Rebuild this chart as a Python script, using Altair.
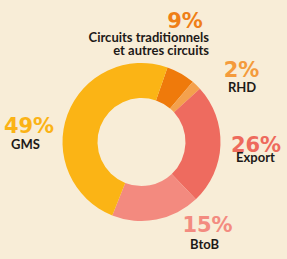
import math
import altair as alt
import pandas as pd

# Categories in clockwise order starting from the top (after GMS)
categories = ["Circuits traditionnels et autres circuits", "RHD", "Export", "BtoB", "GMS"]
# Label percentages as printed
pct_labels = ["9%", "2%", "26%", "15%", "49%"]
arc_share = [5.9, 2.0, 24.7, 18.1, 49.3]
slice_colors = ["#EF7A0B", "#F4A14D", "#EE6B5F", "#F38A7F", "#FBB415"]
pct_colors = ["#EF7F17", "#F49B3C", "#EE6A5C", "#F38B80", "#FBB316"]

# Label layout (pixel positions of annotation text)
pct_pos = [(185, 28), (241.5, 77), (256, 151.5), (207.5, 232), (29, 133)]
name_lines = [["Circuits traditionnels", "et autres circuits"], ["RHD"], ["Export"], ["BtoB"], ["GMS"]]
name_pos = [(209, 42), (242, 91.5), (255.5, 161.5), (204.5, 249), (25.5, 148.5)]
name_align = ["right", "center", "center", "center", "center"]

W, H = 287, 259
CX, CY = 141.5, 142
start = math.radians(19.2)

slices = pd.DataFrame({
    "category": categories,
    "share": arc_share,
    "order": list(range(len(categories))),
})

pie = alt.Chart(slices).mark_arc(innerRadius=44, outerRadius=79, stroke=None).encode(
    theta=alt.Theta("share:Q", stack=True, scale=alt.Scale(range=[start, start + 2 * math.pi])),
    order=alt.Order("order:Q"),
    color=alt.Color("category:N", scale=alt.Scale(domain=categories, range=slice_colors), legend=None),
    x=alt.value(CX),
    y=alt.value(CY),
)

pct_df = pd.DataFrame({
    "label": pct_labels,
    "category": categories,
    "lx": [p[0] for p in pct_pos],
    "ly": [p[1] for p in pct_pos],
})

pct_text = alt.Chart(pct_df).mark_text(
    font="DejaVu Sans", fontWeight="bold", fontSize=21, align="center", baseline="alphabetic"
).encode(
    x=alt.X("lx:Q", scale=None, axis=None),
    y=alt.Y("ly:Q", scale=None, axis=None),
    text="label:N",
    color=alt.Color("category:N", scale=alt.Scale(domain=categories, range=pct_colors), legend=None),
)

name_rows = []
for cat, lines, pos, al in zip(categories, name_lines, name_pos, name_align):
    for i, line in enumerate(lines):
        name_rows.append({"label": line, "lx": pos[0], "ly": pos[1] + 13 * i, "al": al})
name_df = pd.DataFrame(name_rows)

layers = [pie, pct_text]
for al in ["right", "center"]:
    layers.append(
        alt.Chart(name_df[name_df["al"] == al]).mark_text(
            font="Lato", fontWeight="bold", fontSize=13, align=al, baseline="alphabetic", color="#1E1A17"
        ).encode(
            x=alt.X("lx:Q", scale=None, axis=None),
            y=alt.Y("ly:Q", scale=None, axis=None),
            text="label:N",
        )
    )

chart = alt.layer(*layers).resolve_scale(color="independent").properties(
    width=W, height=H, padding=0, autosize=alt.AutoSizeParams(type="none"),
    background="#F8EDD7",
).configure_view(stroke=None)

chart.save("out.html", embed_options={"renderer": "svg", "actions": False})
